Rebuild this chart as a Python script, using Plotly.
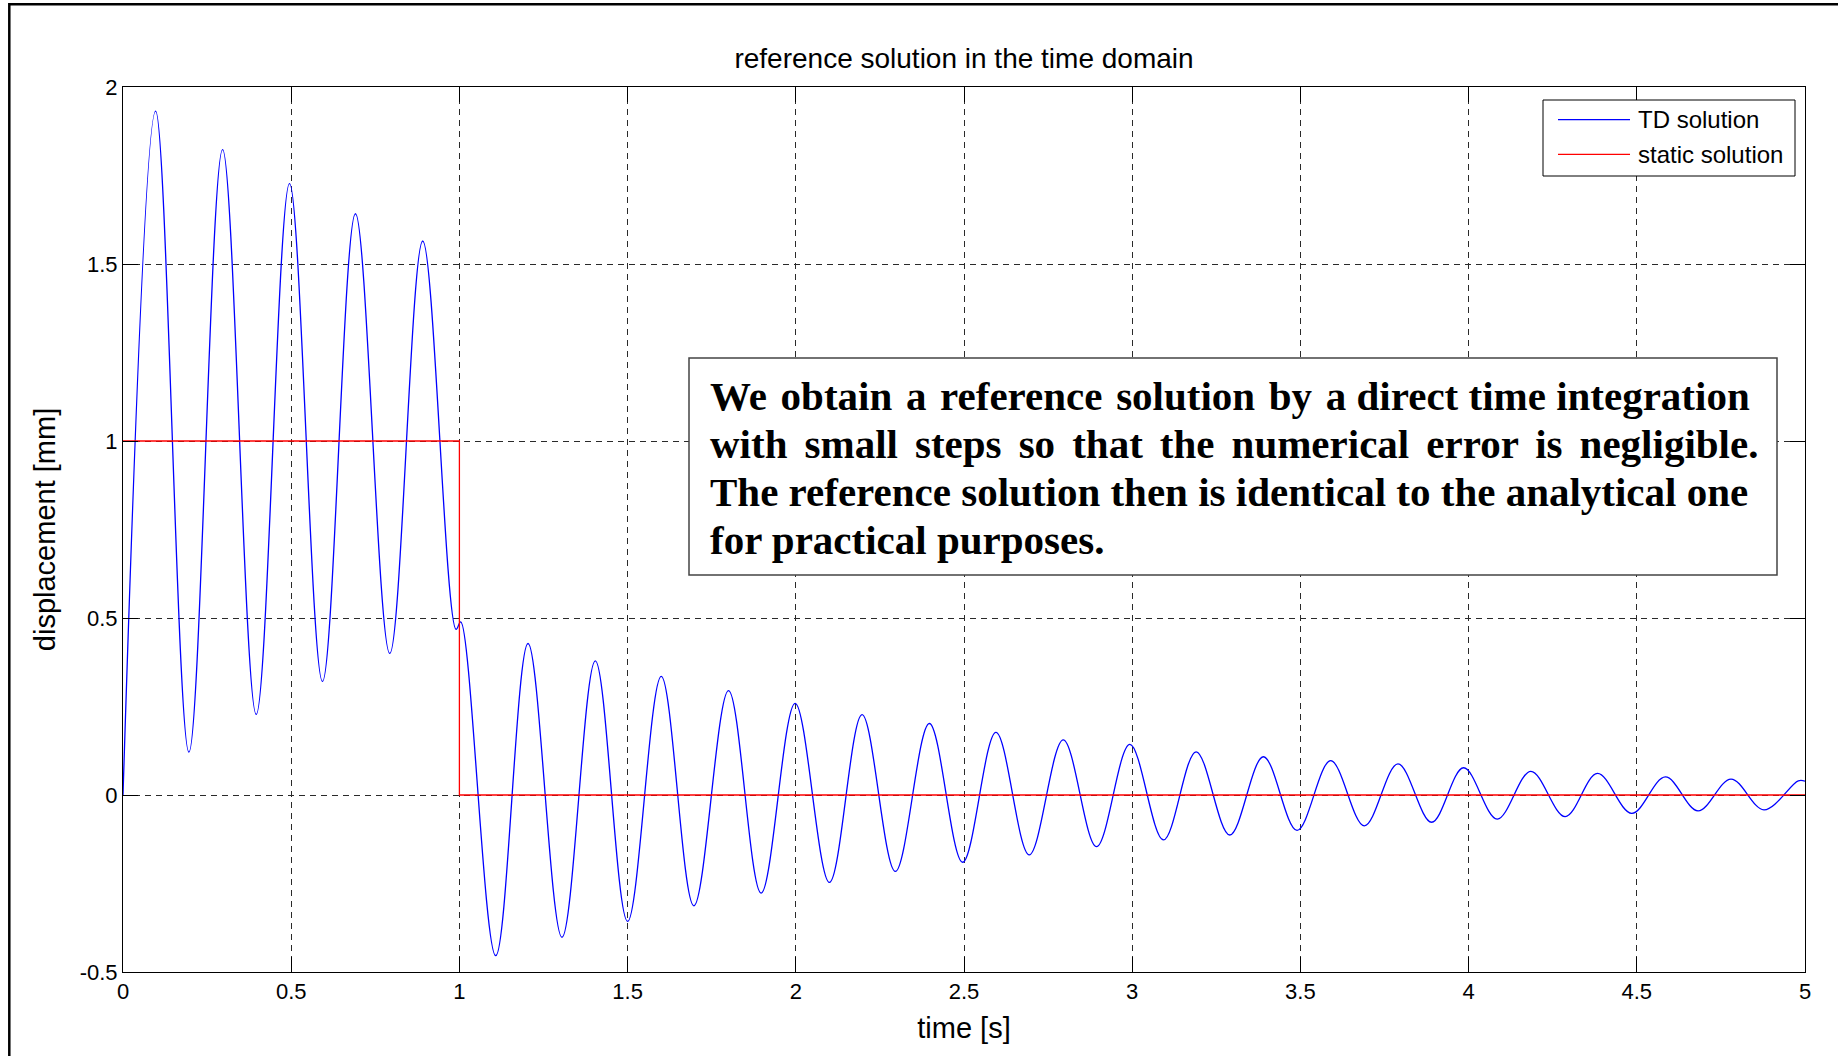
import plotly.graph_objects as go

# ---------------- data ----------------
# extrema (and a few special points) of the time-domain solution
td_t = [0.000, 0.097, 0.196, 0.296, 0.396, 0.495, 0.593, 0.691, 0.793, 0.891,
        0.990, 1.004, 1.108, 1.204, 1.305, 1.404, 1.500, 1.600, 1.697, 1.800,
        1.897, 1.998, 2.100, 2.197, 2.296, 2.397, 2.496, 2.595, 2.694, 2.795,
        2.894, 2.993, 3.093, 3.190, 3.290, 3.390, 3.490, 3.590, 3.690, 3.790,
        3.890, 3.985, 4.085, 4.185, 4.287, 4.383, 4.485, 4.585, 4.682, 4.780,
        4.878, 4.980, 5.000]
td_y = [0.000, 1.932, 0.121, 1.823, 0.228, 1.727, 0.321, 1.642, 0.400, 1.565,
        0.468, 0.489, -0.454, 0.428, -0.402, 0.379, -0.357, 0.335, -0.313, 0.295,
        -0.277, 0.259, -0.247, 0.227, -0.216, 0.202, -0.190, 0.177, -0.169, 0.156,
        -0.146, 0.143, -0.127, 0.122, -0.113, 0.108, -0.100, 0.097, -0.087, 0.088,
        -0.077, 0.077, -0.068, 0.067, -0.061, 0.061, -0.052, 0.051, -0.045, 0.045,
        -0.042, 0.040, 0.039]

static_t = [0.0, 1.0, 1.0, 5.0]
static_y = [1.0, 1.0, 0.0, 0.0]

x_tickvals = [0, 0.5, 1, 1.5, 2, 2.5, 3, 3.5, 4, 4.5, 5]
x_ticktext = ["0", "0.5", "1", "1.5", "2", "2.5", "3", "3.5", "4", "4.5", "5"]
y_tickvals = [-0.5, 0, 0.5, 1, 1.5, 2]
y_ticktext = ["-0.5", "0", "0.5", "1", "1.5", "2"]

title_text = "reference solution in the time domain"
x_label = "time [s]"
y_label = "displacement [mm]"
legend_names = ["TD solution", "static solution"]
note_lines = [
    "We obtain a reference solution by a direct time integration",
    "with small steps so that the numerical error is negligible.",
    "The reference solution then is identical to the analytical one",
    "for practical purposes.",
]

# ---------------- styling ----------------
W, H = 1838, 1056
ML, MR, MT, MB = 123, 33, 87, 84
SANS = "Liberation Sans, Arial, Helvetica, sans-serif"
SERIF = "Liberation Serif, Times New Roman, serif"
BLUE = "#0000FF"
RED = "#FF0000"

pw = W - ML - MR
ph = H - MT - MB


def px_x(x):
    return (x - ML) / pw


def px_y(y):
    return (H - MB - y) / ph


fig = go.Figure()
fig.add_trace(go.Scatter(x=td_t, y=td_y, mode="lines", name=legend_names[0],
                         line=dict(color=BLUE, width=1.3, shape="spline", smoothing=1.0),
                         showlegend=False, hoverinfo="skip"))
fig.add_trace(go.Scatter(x=static_t, y=static_y, mode="lines", name=legend_names[1],
                         line=dict(color=RED, width=1.3),
                         showlegend=False, hoverinfo="skip"))

axis_common = dict(
    showline=True, linecolor="black", linewidth=1, mirror="ticks",
    ticks="inside", ticklen=15, tickcolor="black", tickwidth=1,
    showgrid=True, gridcolor="#2a2a2a", gridwidth=1, griddash="6px,5px",
    zeroline=False, tickfont=dict(family=SANS, size=22, color="black"),
)

fig.update_xaxes(range=[0, 5], tickmode="array", tickvals=x_tickvals, ticktext=x_ticktext,
                 title=dict(text=x_label, font=dict(family=SANS, size=29, color="black"), standoff=14),
                 **axis_common)
fig.update_yaxes(range=[-0.5, 2], tickmode="array", tickvals=y_tickvals, ticktext=y_ticktext,
                 title=dict(text=y_label, font=dict(family=SANS, size=29, color="black"), standoff=15),
                 **axis_common)

shapes = []
annotations = []

# outer figure frame (top and left edges visible)
shapes.append(dict(type="line", xref="paper", yref="paper", x0=px_x(9.3), x1=px_x(W + 5),
                   y0=px_y(4.3), y1=px_y(4.3), line=dict(color="black", width=2.5)))
shapes.append(dict(type="line", xref="paper", yref="paper", x0=px_x(9.3), x1=px_x(9.3),
                   y0=px_y(3), y1=px_y(H + 5), line=dict(color="black", width=2.5)))

# legend box
shapes.append(dict(type="rect", xref="paper", yref="paper", layer="above",
                   x0=px_x(1543), x1=px_x(1795), y0=px_y(176), y1=px_y(100),
                   fillcolor="white", line=dict(color="black", width=1)))
for name, color, ly in zip(legend_names, [BLUE, RED], [119.7, 154.3]):
    shapes.append(dict(type="line", xref="paper", yref="paper", layer="above",
                       x0=px_x(1558), x1=px_x(1630), y0=px_y(ly), y1=px_y(ly),
                       line=dict(color=color, width=1.2)))
    annotations.append(dict(text=name, xref="paper", yref="paper", x=px_x(1636), y=px_y(ly),
                            xanchor="left", yanchor="middle", showarrow=False,
                            font=dict(family=SANS, size=24, color="black")))

# note box
shapes.append(dict(type="rect", xref="paper", yref="paper", layer="above",
                   x0=px_x(689), x1=px_x(1777), y0=px_y(575), y1=px_y(358),
                   fillcolor="white", line=dict(color="#444444", width=1.5)))


def justify(text, extra, count):
    # widen the first `count` word gaps with an extra small space
    parts = text.split(" ")
    out = parts[0]
    for k, w in enumerate(parts[1:]):
        out += " " + (extra if k < count else "") + w
    return out


note_render = [
    justify(note_lines[0], "\u200a", 6),
    justify(note_lines[1], "\u2006", 9),
    note_lines[2],
    note_lines[3],
]
for txt, cy in zip(note_render, [396, 444, 492, 540]):
    annotations.append(dict(text="<b>" + txt + "</b>", xref="paper", yref="paper",
                            x=px_x(708), y=px_y(cy), xanchor="left", yanchor="middle",
                            showarrow=False, font=dict(family=SERIF, size=41, color="black")))

fig.update_layout(
    width=W, height=H, autosize=False,
    margin=dict(l=ML, r=MR, t=MT, b=MB, pad=0),
    paper_bgcolor="white", plot_bgcolor="white",
    title=dict(text=title_text, x=0.5, xref="paper", xanchor="center",
               y=1 - 58.6 / H, yref="container", yanchor="middle",
               font=dict(family=SANS, size=28, color="black")),
    shapes=shapes, annotations=annotations, showlegend=False,
)

fig.write_html("out.html")
